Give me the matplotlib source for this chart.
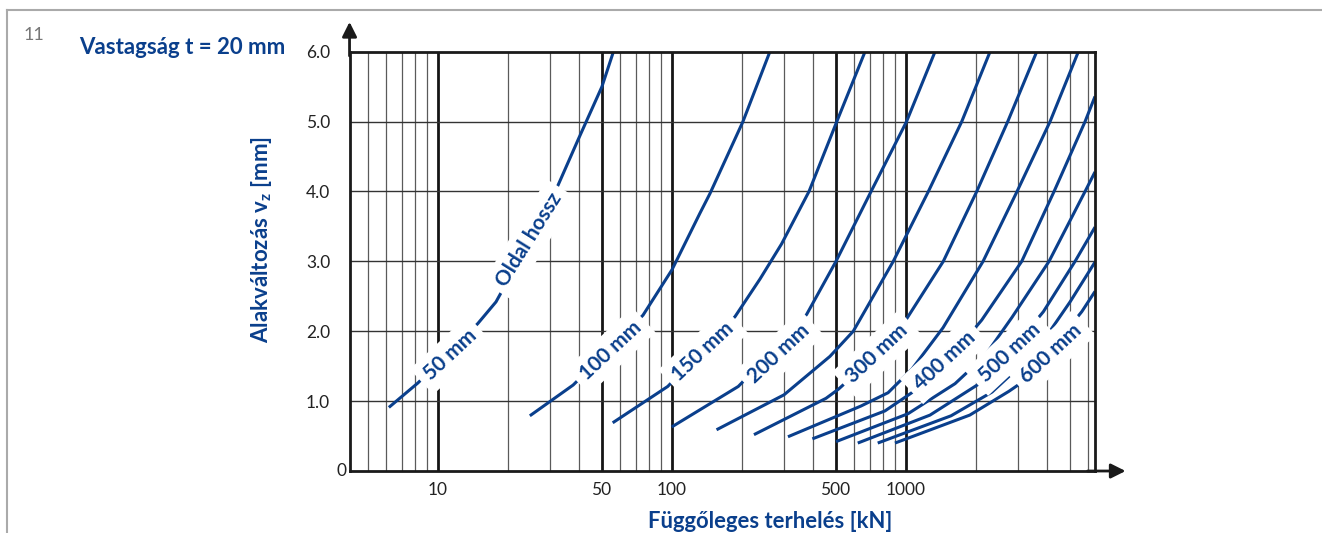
import matplotlib.pyplot as plt
from matplotlib.lines import Line2D
from matplotlib.transforms import blended_transform_factory

plt.rcParams['font.family'] = ['Lato', 'DejaVu Sans']
plt.rcParams['mathtext.fontset'] = 'custom'
plt.rcParams['mathtext.rm'] = 'Lato'
plt.rcParams['mathtext.bf'] = 'Lato:bold'

BLUE = '#0a3f8c'

# terhelés [kN] és alakváltozás [mm] oldalhosszanként
load_50 = [6.17, 8.21, 11.0, 14.8, 17.7, 24.0, 32.6, 39.7, 50.2, 56.2]
defl_50 = [0.91, 1.26, 1.68, 2.11, 2.42, 3.22, 4.09, 4.74, 5.50, 6.0]

load_100 = [24.7, 37.8, 53.3, 75.2, 100, 131.7, 145.3, 201, 262]
defl_100 = [0.79, 1.23, 1.72, 2.23, 2.88, 3.69, 3.97, 5.0, 6.0]

load_150 = [55.8, 95.9, 131.7, 186, 238, 294, 385, 506, 668]
defl_150 = [0.69, 1.21, 1.68, 2.21, 2.75, 3.25, 4.0, 5.0, 6.0]

load_200 = [99.7, 192, 267.5, 376, 502, 709, 1005, 1330]
defl_200 = [0.63, 1.21, 1.70, 2.24, 3.0, 4.0, 5.0, 6.0]

load_250 = [155, 301, 473, 595, 882, 1246, 1730, 2286]
defl_250 = [0.59, 1.09, 1.64, 2.0, 3.0, 4.0, 5.0, 6.0]

load_300 = [224, 455, 514, 702, 1007, 1443, 2005, 2720, 3618]
defl_300 = [0.52, 1.04, 1.17, 1.58, 2.18, 3.0, 4.0, 5.0, 6.0]

load_350 = [313, 642, 838, 1061, 1439, 2134, 2981, 4125, 5450]
defl_350 = [0.49, 0.93, 1.12, 1.46, 2.05, 3.0, 4.0, 5.0, 6.0]

load_400 = [398, 813, 1147, 1542, 2106, 3122, 4291, 5821, 6420]
defl_400 = [0.46, 0.86, 1.20, 1.62, 2.16, 3.0, 4.0, 5.0, 5.36]

load_450 = [502, 1020, 1620, 2175, 2838, 4084, 5821, 6420]
defl_450 = [0.42, 0.82, 1.25, 1.65, 2.2, 3.0, 4.0, 4.28]

load_500 = [622, 1266, 2035, 2782, 3863, 5276, 6420]
defl_500 = [0.40, 0.80, 1.24, 1.70, 2.28, 3.0, 3.49]

load_550 = [757, 1557, 2331, 3070, 3965, 5022, 6420]
defl_550 = [0.40, 0.79, 1.13, 1.50, 1.92, 2.42, 2.99]

load_600 = [897, 1872, 2750, 3040, 4125, 5636, 6420]
defl_600 = [0.40, 0.80, 1.14, 1.24, 1.72, 2.28, 2.57]

curves = [
    (load_50, defl_50), (load_100, defl_100), (load_150, defl_150),
    (load_200, defl_200), (load_250, defl_250), (load_300, defl_300),
    (load_350, defl_350), (load_400, defl_400), (load_450, defl_450),
    (load_500, defl_500), (load_550, defl_550), (load_600, defl_600),
]

# feliratok a görbéken
curve_labels = ['50 mm', 'Oldal hossz', '100 mm', '150 mm', '200 mm',
                '300 mm', '400 mm', '500 mm', '600 mm']
label_at = [(11.3, 1.66, 43), (24.6, 3.31, 58), (54.7, 1.72, 43),
            (136, 1.71, 43), (287, 1.68, 43), (752, 1.68, 43),
            (1460, 1.58, 43), (2768, 1.70, 43), (4153, 1.68, 43)]

x_ticks = [10, 50, 100, 500, 1000]
x_major_grid = [10, 50, 100, 500, 1000]
x_minor_grid = [5, 6, 7, 8, 9, 20, 30, 40, 60, 70, 80, 90,
                200, 300, 400, 600, 700, 800, 900,
                2000, 3000, 4000, 5000, 6000]
y_ticks = [1, 2, 3, 4, 5, 6]

fig = plt.figure(figsize=(13.22, 5.33), dpi=100)
ax = fig.add_axes([0.2644, 0.1163, 0.5639, 0.7867])
ax.set_xscale('log')
ax.set_xlim(4.19, 6420)
ax.set_ylim(0, 6)

for x in x_minor_grid:
    ax.axvline(x, color='#5a5a5a', lw=0.9, zorder=1)
for x in x_major_grid:
    ax.axvline(x, color='#151515', lw=2.0, zorder=1)
for y in y_ticks[:-1]:
    ax.axhline(y, color='#333333', lw=1.0, zorder=1)

for load, defl in curves:
    ax.plot(load, defl, color=BLUE, lw=2.2, solid_capstyle='butt', zorder=2)

for text, (x, y, rot) in zip(curve_labels, label_at):
    ax.text(x, y, text, rotation=rot, rotation_mode='anchor', ha='center', va='center',
            fontsize=15, fontweight='bold', color=BLUE, zorder=5,
            bbox=dict(boxstyle='square,pad=0.35', fc='white', ec='none'))

ax.set_xticks(x_ticks)
ax.set_xticklabels([str(t) for t in x_ticks])
ax.xaxis.set_minor_locator(plt.NullLocator())
ax.set_yticks(y_ticks)
ax.set_yticklabels(['%.1f' % t for t in y_ticks])
ax.tick_params(axis='both', length=0, labelsize=12.5, colors='#222222')
ax.tick_params(axis='x', pad=8)
ax.tick_params(axis='y', pad=14)
ax.text(-0.004, 0, '0', transform=blended_transform_factory(ax.transAxes, ax.transData),
        ha='right', va='center', fontsize=12.5, color='#222222')

for sp in ax.spines.values():
    sp.set_linewidth(2)
    sp.set_color('#1a1a1a')
    sp.set_zorder(6)

# tengelyek nyilai
ax.annotate('', xy=(0, 1.071), xytext=(0, 0.99), xycoords='axes fraction',
            arrowprops=dict(arrowstyle='-|>', color='#1a1a1a', lw=2, mutation_scale=22,
                            shrinkA=0, shrinkB=0))
ax.annotate('', xy=(1.041, 0), xytext=(0.99, 0), xycoords='axes fraction',
            arrowprops=dict(arrowstyle='-|>', color='#1a1a1a', lw=2, mutation_scale=22,
                            shrinkA=0, shrinkB=0))

W, H = 1322, 533
fig.text(79 / W, 1 - 47 / H, 'Vastagság t = 20 mm', ha='left', va='center',
         fontsize=16, fontweight='bold', color=BLUE)
fig.text(24 / W, 1 - 35 / H, '11', ha='left', va='center', fontsize=13, color='#777777')
fig.text(770 / W, 1 - 522 / H, 'Függőleges terhelés [kN]', ha='center', va='center',
         fontsize=15.8, fontweight='bold', color=BLUE)
fig.text(262 / W, 1 - 239 / H, r'Alakváltozás v$_{\mathbf{z}}$ [mm]', ha='center', va='center',
         rotation=90, fontsize=16, fontweight='bold', color=BLUE)

# keret
fig.add_artist(Line2D([7 / W, 1], [1 - 10 / H, 1 - 10 / H], transform=fig.transFigure,
                      color='#aaaaaa', lw=1.5))
fig.add_artist(Line2D([7 / W, 7 / W], [0, 1 - 10 / H], transform=fig.transFigure,
                      color='#aaaaaa', lw=1.5))

fig.savefig('out.png', dpi=100)
